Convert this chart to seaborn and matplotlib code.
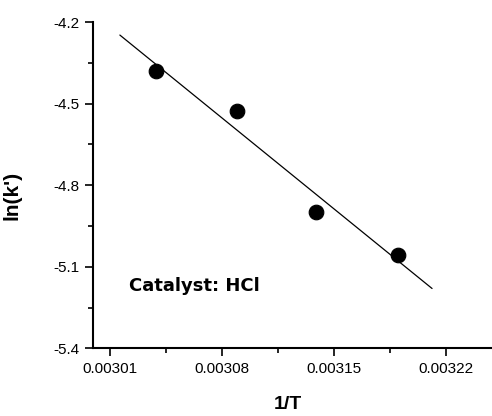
import numpy as np
import pandas as pd
import matplotlib
matplotlib.use("Agg")
import matplotlib.pyplot as plt
from matplotlib.ticker import MultipleLocator, FixedLocator
import seaborn as sns

# data
inv_t = [0.0030387, 0.0030892, 0.0031392, 0.0031899]
ln_k = [-4.379, -4.528, -4.900, -5.056]
# fitted line end points
fit_x = [0.0030162, 0.0032115]
fit_y = [-4.248, -5.180]

x_ticks = [0.00301, 0.00308, 0.00315, 0.00322]
x_tick_labels = ["0.00301", "0.00308", "0.00315", "0.00322"]
y_ticks = [-5.4, -5.1, -4.8, -4.5, -4.2]
y_tick_labels = ["-5.4", "-5.1", "-4.8", "-4.5", "-4.2"]

sns.set_style("ticks")
plt.rcParams['font.family'] = ['Liberation Sans', 'DejaVu Sans']
plt.rcParams.update({'text.color': 'black', 'axes.labelcolor': 'black',
                     'xtick.color': 'black', 'ytick.color': 'black',
                     'axes.edgecolor': 'black'})

pts = pd.DataFrame({'x': inv_t, 'y': ln_k})
fit = pd.DataFrame({'x': fit_x, 'y': fit_y})

fig = plt.figure(figsize=(4.92, 4.16), dpi=100)
ax = fig.add_axes([0.1884, 0.1627, 0.8116, 0.7844])

sns.lineplot(data=fit, x='x', y='y', color='black', linewidth=0.9, ax=ax)
sns.scatterplot(data=pts, x='x', y='y', color='black', s=110, edgecolor='black', ax=ax, zorder=3)

ax.set_xlim(0.0029992, 0.003249)
ax.set_ylim(-5.4, -4.2)

ax.xaxis.set_major_locator(FixedLocator(x_ticks))
ax.set_xticklabels(x_tick_labels)
ax.xaxis.set_minor_locator(MultipleLocator(0.000035))
ax.yaxis.set_major_locator(FixedLocator(y_ticks))
ax.set_yticklabels(y_tick_labels)
ax.yaxis.set_minor_locator(MultipleLocator(0.15))

ax.tick_params(which='major', length=6, width=1.2, labelsize=11, direction='out')
ax.tick_params(which='minor', length=3.5, width=1.2, direction='out')
for side in ['top', 'right']:
    ax.spines[side].set_visible(False)
for side in ['left', 'bottom']:
    ax.spines[side].set_linewidth(1.5)

ax.set_xlabel('1/T', fontsize=14, fontweight='bold')
ax.set_ylabel("ln(k')", fontsize=15, fontweight='bold')
ax.xaxis.set_label_coords(0.49, -0.145)
ax.yaxis.set_label_coords(-0.178, 0.47)

ax.text(0.092, 0.19, 'Catalyst: HCl', transform=ax.transAxes, fontsize=13,
        fontweight='bold', va='center', ha='left', family=['DejaVu Sans'])

fig.savefig('out.png', dpi=100)
